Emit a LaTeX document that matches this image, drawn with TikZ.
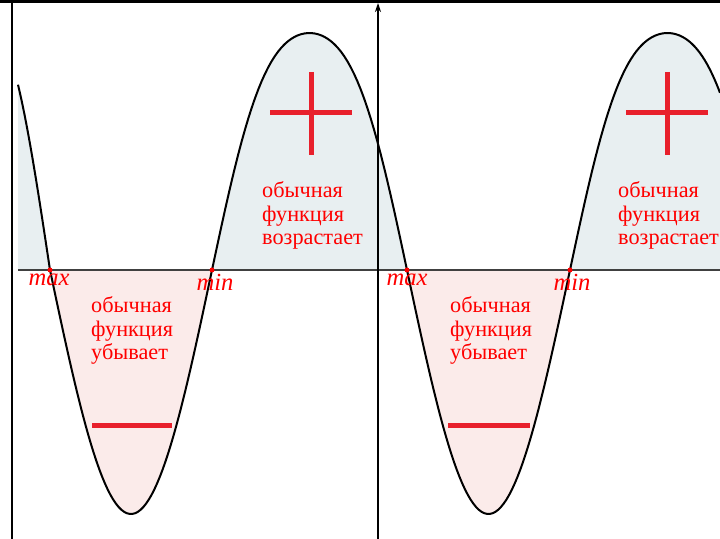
\documentclass[tikz,border=0pt]{standalone}
\usepackage{fontspec}
\setmainfont{Liberation Serif}
\usetikzlibrary{arrows.meta}
\definecolor{upfill}{RGB}{232,239,241}
\definecolor{downfill}{RGB}{251,235,234}
\definecolor{signred}{RGB}{232,32,44}
\definecolor{txtred}{RGB}{255,0,0}

\begin{document}
\begin{tikzpicture}[x=0.03cm, y=-0.03cm,
  declare function={posl(\t)=237*(sin(\t)+0.054*sin(3*\t))/0.946; negl(\t)=244*sin(\t);},
  lobetext/.style={anchor=north west, inner sep=0pt, align=left, text=txtred, font=\fontsize{19}{20.4}\selectfont},
  extlabel/.style={anchor=north, inner sep=1pt, text=txtred, font=\fontsize{21}{22}\selectfont\itshape},
  zerodot/.style={circle, fill=txtred, inner sep=0pt, minimum size=0.15cm},
  signbar/.style={signred, line width=0.15cm},
  graph/.style={line width=0.06cm, black}]
\useasboundingbox (0,0) rectangle (720,539);

% Fills between curve and axis
\fill[upfill] (18,270) -- plot[domain=18:50, samples=30] (\x, {270-237*sin((50-\x)/112*180)}) -- cycle;
\fill[downfill] plot[domain=50:212, samples=60] (\x, {270+negl((\x-50)/162*180)}) -- cycle;
\fill[upfill] plot[domain=212:407, samples=60] (\x, {270-posl((\x-212)/195*180)}) -- cycle;
\fill[downfill] plot[domain=407:570, samples=60] (\x, {270+negl((\x-407)/163*180)}) -- cycle;
\fill[upfill] plot[domain=570:720, samples=60] (\x, {270-posl((\x-570)/195*180)}) -- (720,270) -- cycle;

% Frame
\coordinate (topleft) at (0,1.5);
\coordinate (topright) at (720,1.5);
\coordinate (leftfoot) at (12,539);
\coordinate (lefthead) at (12,0);
\draw[line width=0.09cm] (topleft) -- (topright);
\draw[line width=0.06cm] (leftfoot) -- (lefthead);

% Axes
\coordinate (xstart) at (18,270);
\coordinate (xend) at (720,270);
\coordinate (yfoot) at (378,539);
\coordinate (ytip) at (378,3);
\draw[line width=0.05cm, black!75] (xstart) -- (xend);
\draw[line width=0.045cm, -{Stealth[length=0.27cm, width=0.18cm]}] (yfoot) -- (ytip);

% Curve
\draw[graph] plot[domain=18:50, samples=30] (\x, {270-237*sin((50-\x)/112*180)})
  -- plot[domain=50:212, samples=60] (\x, {270+negl((\x-50)/162*180)})
  -- plot[domain=212:407, samples=60] (\x, {270-posl((\x-212)/195*180)})
  -- plot[domain=407:570, samples=60] (\x, {270+negl((\x-407)/163*180)})
  -- plot[domain=570:720, samples=60] (\x, {270-posl((\x-570)/195*180)});

% Zeros
\node[zerodot] (zmaxa) at (50,270) {};
\node[zerodot] (zmina) at (212,270) {};
\node[zerodot] (zmaxb) at (407,270) {};
\node[zerodot] (zminb) at (570,270) {};
\node[extlabel] (maxa) at (49,273) {max};
\node[extlabel] (mina) at (215,273) {min};
\node[extlabel] (maxb) at (407,273) {max};
\node[extlabel] (minb) at (572,273) {min};

% Lobe texts
\node[lobetext] (upa) at (262,181) {обычная\\функция\\возрастает};
\node[lobetext] (upb) at (618,181) {обычная\\функция\\возрастает};
\node[lobetext] (downa) at (91,296) {обычная\\функция\\убывает};
\node[lobetext] (downb) at (450,296) {обычная\\функция\\убывает};

% Signs
\draw[signbar] (270,113) -- (352,113);
\draw[signbar] (311,72) -- (311,155);
\draw[signbar] (626,113) -- (708,113);
\draw[signbar] (667,72) -- (667,155);
\draw[signbar] (92,425) -- (172,425);
\draw[signbar] (448,425) -- (530,425);
\end{tikzpicture}
\end{document}
